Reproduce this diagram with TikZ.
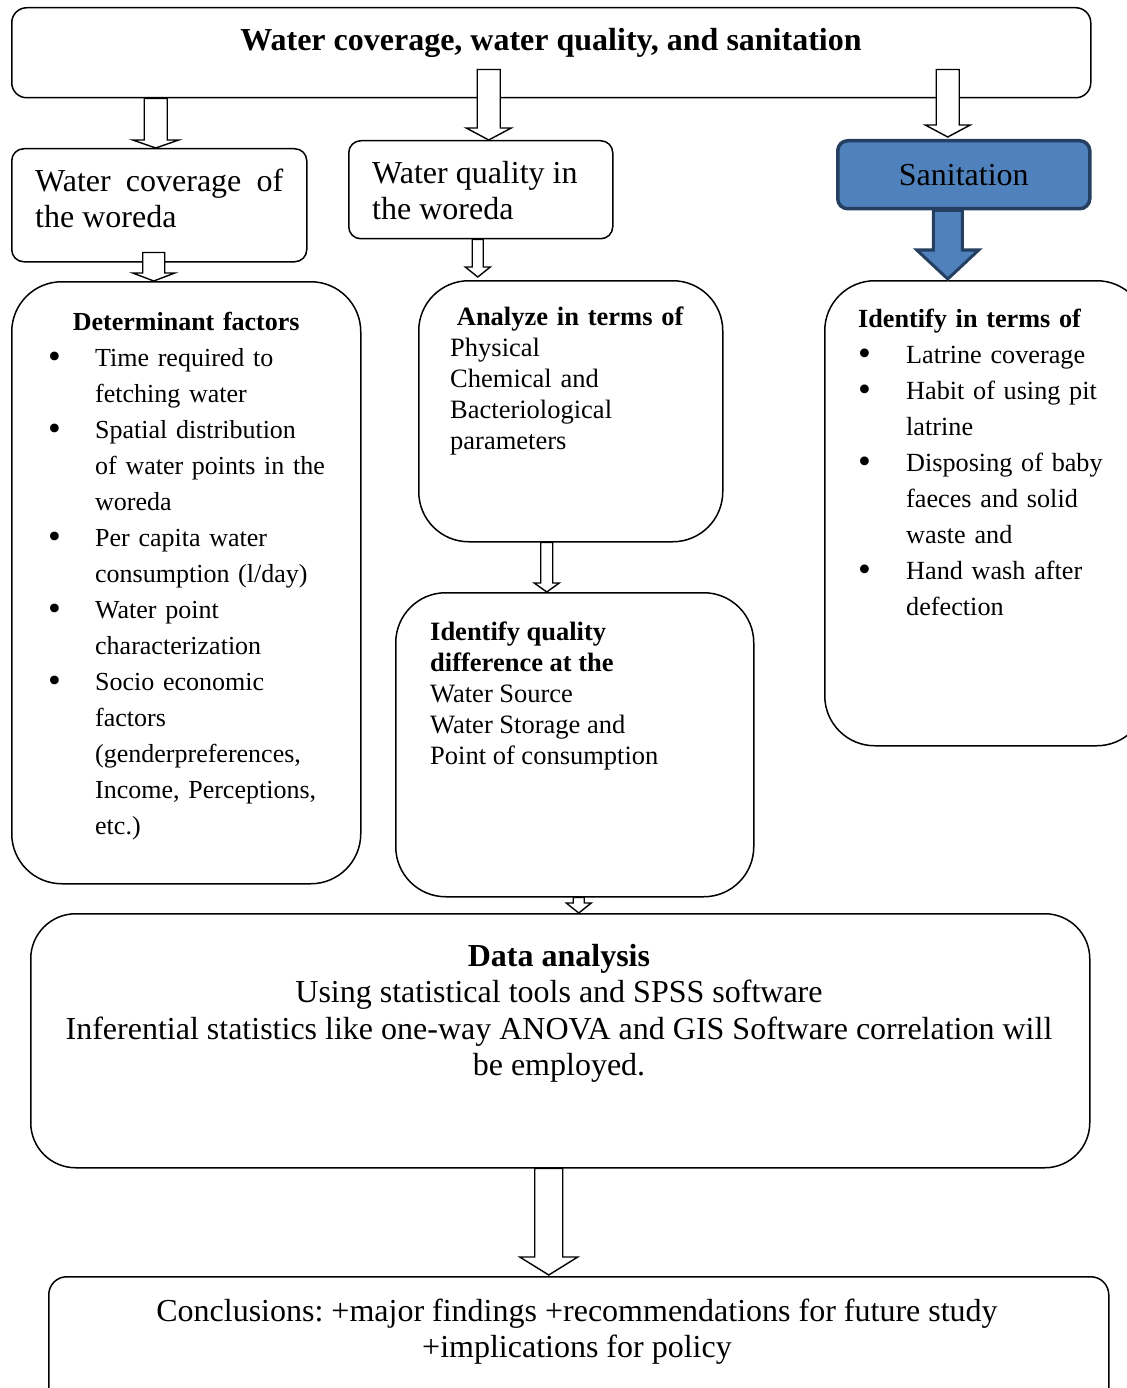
\documentclass[tikz,border=0pt]{standalone}
\usepackage{graphicx}
\usepackage{fontspec}
\setmainfont{Liberation Serif}
\usetikzlibrary{calc}
\definecolor{sanfill}{HTML}{4F81BD}
\definecolor{sanline}{HTML}{243F60}
\frenchspacing
\newcommand\whead{\fontsize{32}{36}\selectfont}
\newcommand\wbody{\fontsize{26}{36}\selectfont}
\newcommand\wbodyt{\fontsize{26.5}{31}\selectfont}
\newcommand\bitem[1][47pt]{\par\noindent\hangindent=#1\hangafter=0\llap{\makebox[#1][l]{\raisebox{-2.2pt}{\scalebox{1.4}{\textbullet}}}}\ignorespaces}

\begin{document}
\begin{tikzpicture}[x=1pt, y=-1pt,
	box/.style={draw, line width=1.5pt, rounded corners=#1, inner sep=0pt, anchor=north west},
	box/.default=12pt,
	txt/.style={anchor=north west, inner sep=0pt, align=left, font=\wbody},
	blockarrow/.style n args={3}{draw=black, fill=white, line width=1.4pt,
		to path={let \p1=(\tikztostart), \p2=(\tikztotarget) in
			(\x2-#1,\y1) -- (\x2-#1,\y2+#3) -- (\x2-#2,\y2+#3) -- (\x2,\y2)
			-- (\x2+#2,\y2+#3) -- (\x2+#1,\y2+#3) -- (\x2+#1,\y1) -- cycle}}]
	\useasboundingbox (0,0) rectangle (1126,1388);

	\node[box=15pt, minimum width=1079pt, minimum height=90pt] (top) at (11,7) {};
	\node[anchor=base, font=\whead\bfseries] (toptxt) at (551,51) {Water coverage, water quality, and sanitation};

	\node[box, minimum width=295pt, minimum height=113pt] (cov) at (11,148) {};
	\node[txt, font=\whead] (covtxt) at (35,169) {\makebox[248pt][s]{Water coverage of}\\ the woreda};
	\node[box, minimum width=264pt, minimum height=98pt] (wq) at (348,140) {};
	\node[txt, font=\whead] (wqtxt) at (372,161) {Water quality in\\ the woreda};
	\node[box=10pt, draw=sanline, fill=sanfill, line width=3.5pt, minimum width=252pt, minimum height=68pt, font=\whead] (san) at (836,139) {Sanitation};

	\node[box=50pt, minimum width=349pt, minimum height=602pt] (det) at (11,281) {};
	\node[txt, text width=300pt] (dettxt) at (48,312) {\makebox[276pt]{\bfseries Determinant factors}\par
		\bitem Time required to\newline fetching water
		\bitem Spatial distribution\newline of water points in the\newline woreda
		\bitem Per capita water\newline consumption (l/day)
		\bitem Water point\newline characterization
		\bitem Socio economic\newline factors\newline (genderpreferences,\newline Income, Perceptions,\newline etc.)\par};

	\node[box=50pt, minimum width=304pt, minimum height=261pt] (ana) at (418,280) {};
	\node[txt, text width=240pt, font=\wbodyt] (anatxt) at (450,307) {{\centering\bfseries Analyze in terms of\par}
		Physical\newline Chemical and\newline Bacteriological\newline parameters};

	\node[box=50pt, minimum width=358pt, minimum height=304pt] (idq) at (395,592) {};
	\node[txt, font=\wbodyt] (idqtxt) at (430,622) {\textbf{Identify quality}\\ \textbf{difference at the}\\ Water Source\\ Water Storage and\\ Point of consumption};

	\node[box=50pt, minimum width=322pt, minimum height=465pt] (sanl) at (824,280) {};
	\node[txt, text width=262pt, font=\fontsize{26.2}{36}\selectfont] (sanltxt) at (858,309) {\textbf{Identify in terms of}\par
		\bitem[48pt] Latrine coverage
		\bitem[48pt] Habit of using pit\newline latrine
		\bitem[48pt] Disposing of baby\newline faeces and solid\newline waste and
		\bitem[48pt] Hand wash after\newline defection\par};

	\node[box=45pt, minimum width=1059pt, minimum height=254pt] (data) at (30,913) {};
	\node[anchor=north, inner sep=0pt, align=center, font=\fontsize{32}{36.5}\selectfont] (datatxt) at (559,944) {\textbf{Data analysis}\\ Using statistical tools and SPSS software\\ Inferential statistics like one-way ANOVA and GIS Software correlation will\\ be employed.};

	\node[box=18pt, minimum width=1060pt, minimum height=140pt] (conc) at (48,1276) {};
	\node[anchor=north, inner sep=0pt, align=center, font=\whead] (conctxt) at (577,1299) {Conclusions: +major findings +recommendations for future study\\ +implications for policy};

	% block arrows between the boxes
	\draw[blockarrow={11.5pt}{23pt}{8pt}] (top.south) to ($(cov.north)+(-3.5,0)$);
	\draw[blockarrow={11.5pt}{22.5pt}{12pt}] ([yshift=29pt]top.south) to ($(wq.north)+(8,0)$);
	\draw[blockarrow={11.5pt}{22.5pt}{12pt}] ([yshift=29pt]top.south) to ($(san.north)+(-16,-2)$);
	\draw[blockarrow={14.5pt}{31pt}{29pt}, draw=sanline, fill=sanfill, line width=3pt] (san.south) to ($(san.south |- sanl.north)+(-16,-1)$);
	\draw[blockarrow={11pt}{21pt}{8pt}] ([yshift=10pt]cov.south) to ($(cov.south |- det.north)+(-5.5,0)$);
	\draw[blockarrow={5.5pt}{12.5pt}{10pt}] (wq.south) to ($(wq.south |- ana.north)+(-3,-3)$);
	\draw[blockarrow={6pt}{12.5pt}{9pt}] (ana.south) to ($(ana.south |- idq.north)+(-24,0)$);
	\draw[blockarrow={5.5pt}{12.5pt}{10pt}] (idq.south) to ($(idq.south |- data.north)+(4,0)$);
	\draw[blockarrow={14pt}{29pt}{18pt}] (data.south) to ($(data.south |- conc.north)+(-11.5,-1)$);
\end{tikzpicture}
\end{document}
